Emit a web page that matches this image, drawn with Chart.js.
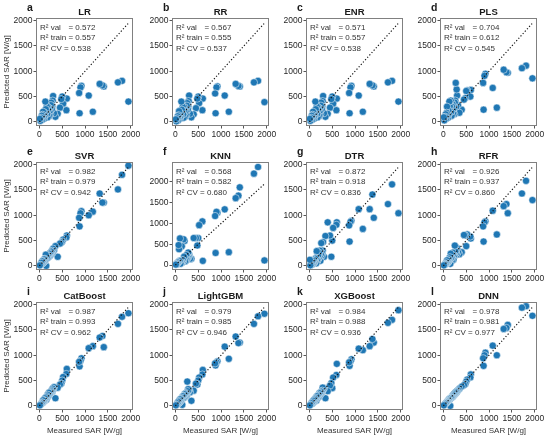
<!DOCTYPE html>
<html>
<head>
<meta charset="utf-8">
<script src="https://cdn.jsdelivr.net/npm/chart.js@4.4.0/dist/chart.umd.min.js"></script>
<style>
  body { margin: 0; background: #fff; width: 546px; height: 437px; position: relative; overflow: hidden; }
  canvas { position: absolute; }
</style>
</head>
<body>
<script>
// measured SAR (same for every model)
const measured = [1950, 1810, 1720, 1410, 1380, 1320, 1170, 1080, 920, 900, 880, 870,
  600, 590, 520, 500, 480, 450, 400, 350,
  320, 300, 290, 280, 270, 260, 250, 240, 230, 220, 210, 200, 190, 180, 170, 160, 150, 140, 130, 120, 110, 100, 90, 80, 70, 60, 50, 40, 20, 10];

const predLR = [400, 810, 780, 700, 720, 750, 200, 520, 710, 680, 170, 570,
  460, 230, 360, 500, 450, 280, 160, 100,
  170, 510, 420, 300, 250, 380, 330, 150, 260, 200, 110, 280, 240, 90, 160, 310, 220, 250, 400, 130, 180, 60, 100, 200, 140, 40, 120, 80, 20, 60];
const predRR = [390, 810, 780, 700, 710, 750, 200, 520, 700, 680, 170, 560,
  460, 230, 370, 500, 460, 270, 150, 90,
  160, 520, 410, 300, 240, 370, 320, 140, 250, 210, 100, 290, 230, 80, 150, 300, 230, 240, 400, 120, 170, 60, 90, 210, 130, 30, 110, 70, 10, 50];
const predENR = [400, 810, 780, 700, 720, 750, 200, 520, 710, 680, 170, 570,
  460, 230, 360, 500, 450, 280, 160, 100,
  170, 510, 410, 300, 250, 380, 320, 150, 260, 200, 110, 280, 240, 90, 160, 310, 220, 250, 400, 130, 170, 60, 100, 200, 140, 40, 120, 80, 20, 60];
const predPLS = [860, 1110, 1060, 970, 980, 1030, 280, 670, 950, 910, 240, 770,
  630, 500, 620, 610, 470, 440, 240, 180,
  330, 520, 640, 300, 770, 420, 380, 150, 300, 260, 160, 350, 300, 120, 200, 420, 280, 310, 400, 160, 230, 80, 130, 300, 180, 60, 150, 100, 30, 90];
const predSVR = [1980, 1800, 1510, 1250, 1250, 1430, 1070, 1000, 1080, 1040, 780, 950,
  600, 560, 520, 480, 460, 440, 180, 390,
  310, 340, 260, 300, 250, 280, 230, 250, 200, 240, 190, 210, 170, 200, 150, 180, 0, 220, 110, 140, 90, 130, 70, 100, 50, 90, 40, 60, 20, 10];
const predKNN = [110, 2360, 2200, 1870, 1670, 1610, 310, 1340, 1260, 1280, 290, 1180,
  100, 1050, 960, 650, 470, 650, 650, 150,
  150, 250, 200, 300, 180, 200, 130, 240, 100, 150, 90, 580, 200, 620, 100, 120, 60, 450, 80, 50, 30, 640, 100, 380, 480, 70, 60, 30, 20, 10];
const predDTR = [1040, 1610, 1220, 950, 1410, 1120, 730, 1120, 890, 870, 480, 800,
  860, 810, 750, 500, 180, 600, 860, 590,
  180, 470, 300, 250, 200, 450, 230, 100, 300, 180, 260, 150, 200, 110, 120, 290, 50, 160, 140, 90, 80, 60, 120, 40, 100, 30, 70, 20, 10, 120];
const predRFR = [1300, 1680, 1430, 1040, 1220, 1180, 620, 1090, 880, 860, 480, 780,
  540, 580, 620, 390, 600, 610, 270, 230,
  280, 350, 220, 310, 250, 290, 400, 200, 180, 120, 260, 210, 150, 90, 160, 240, 40, 170, 110, 130, 80, 100, 60, 110, 50, 70, 40, 30, 20, 10];
const predCatBoost = [1830, 1760, 1620, 1160, 1380, 1350, 1180, 1140, 940, 890, 780, 870,
  730, 630, 570, 500, 440, 420, 360, 150,
  370, 330, 340, 280, 310, 290, 270, 250, 240, 230, 260, 210, 200, 220, 160, 190, 120, 170, 130, 150, 110, 100, 80, 110, 60, 70, 50, 40, 20, 10];
const predLightGBM = [1820, 1770, 1620, 1250, 1240, 1370, 930, 1170, 880, 860, 800, 840,
  710, 620, 560, 500, 420, 440, 300, 100,
  270, 320, 300, 330, 290, 480, 210, 250, 200, 240, 180, 230, 170, 200, 150, 190, 20, 160, 120, 140, 90, 130, 70, 100, 50, 80, 40, 50, 20, 10];
const predXGBoost = [1890, 1700, 1640, 1250, 1320, 1180, 1100, 1130, 920, 880, 790, 860,
  830, 610, 560, 350, 450, 400, 290, 150,
  350, 320, 360, 300, 260, 280, 250, 230, 210, 250, 180, 220, 170, 200, 150, 190, 100, 160, 120, 140, 90, 120, 70, 100, 50, 70, 40, 50, 20, 10];
const predDNN = [1780, 1970, 1940, 1600, 1540, 1520, 1000, 1190, 1050, 1000, 790, 940,
  620, 560, 520, 480, 430, 410, 380, 340,
  310, 290, 280, 260, 270, 240, 250, 220, 230, 200, 210, 180, 190, 170, 160, 150, 0, 130, 140, 110, 120, 100, 90, 80, 70, 60, 50, 40, 20, 10];

const models = ['LR', 'RR', 'ENR', 'PLS', 'SVR', 'KNN', 'DTR', 'RFR', 'CatBoost', 'LightGBM', 'XGBoost', 'DNN'];
const letters = ['a', 'b', 'c', 'd', 'e', 'f', 'g', 'h', 'i', 'j', 'k', 'l'];
const predictions = [predLR, predRR, predENR, predPLS, predSVR, predKNN, predDTR, predRFR,
  predCatBoost, predLightGBM, predXGBoost, predDNN];
const r2Val = ['0.572', '0.567', '0.571', '0.704', '0.982', '0.568', '0.872', '0.926', '0.987', '0.979', '0.984', '0.978'];
const r2Train = ['0.557', '0.555', '0.557', '0.612', '0.979', '0.582', '0.918', '0.937', '0.993', '0.985', '0.988', '0.981'];
const r2CV = ['0.538', '0.537', '0.538', '0.545', '0.942', '0.680', '0.836', '0.860', '0.962', '0.946', '0.936', '0.977'];
const tickVals = [0, 500, 1000, 1500, 2000];
const diagonal = [0, 1950];

const FONT = '"Liberation Sans", Arial, sans-serif';
const colLeft = [36, 172, 306, 440];
const rowTop = [18, 162, 302];

const panelDecor = {
  id: 'panelDecor',
  afterDraw(chart, args, opts) {
    const ctx = chart.ctx;
    const a = chart.chartArea;
    ctx.save();
    ctx.strokeStyle = '#808080';
    ctx.lineWidth = 1;
    ctx.strokeRect(Math.round(a.left) + 0.5, Math.round(a.top) + 0.5, Math.round(a.width) - 1, Math.round(a.height) - 1);

    ctx.fillStyle = '#1a1a1a';
    ctx.textAlign = 'center';
    ctx.font = 'bold 9.5px ' + FONT;
    ctx.fillText(opts.title, (a.left + a.right) / 2, a.top - 3);

    ctx.textAlign = 'left';
    ctx.font = 'bold 10.5px ' + FONT;
    ctx.fillText(opts.letter, a.left - 9, a.top - 7);

    ctx.fillStyle = '#333';
    ctx.font = '8px ' + FONT;
    const x0 = a.left + 4;
    const eqX = x0 + ctx.measureText('R\u00b2 train ').width;
    const lines = [['R\u00b2 val', opts.val], ['R\u00b2 train', opts.train], ['R\u00b2 CV', opts.cv]];
    lines.forEach((ln, i) => {
      const y = a.top + 11.5 + i * 10.5;
      ctx.fillText(ln[0], x0, y);
      const x = i < 2 ? eqX : x0 + ctx.measureText(ln[0] + ' ').width;
      ctx.fillText('= ' + ln[1], x, y);
    });
    ctx.restore();
  }
};

models.forEach((name, i) => {
  const r = Math.floor(i / 4);
  const c = i % 4;
  const xH = r === 2 ? 26 : 16;
  const canvas = document.createElement('canvas');
  canvas.width = 146;
  canvas.height = 18 + 108 + xH;
  canvas.style.left = (colLeft[c] - 36) + 'px';
  canvas.style.top = (rowTop[r] - 18) + 'px';
  document.body.appendChild(canvas);

  const preds = predictions[i];
  const points = measured.map((m, k) => ({ x: m, y: preds[k] }));
  const yMin = name === 'KNN' ? -120 : -82;
  const yMax = name === 'KNN' ? 2480 : 2052;

  new Chart(canvas.getContext('2d'), {
    type: 'scatter',
    data: {
      datasets: [
        {
          data: diagonal.map(v => ({ x: v, y: v })),
          showLine: true,
          borderColor: '#111',
          borderWidth: 1.2,
          borderDash: [1.2, 2],
          pointRadius: 0,
          order: 0
        },
        {
          data: points,
          backgroundColor: 'rgb(31,119,180)',
          borderColor: '#ffffff',
          borderWidth: 0.5,
          pointRadius: 3.6,
          order: 1
        }
      ]
    },
    options: {
      responsive: false,
      animation: false,
      devicePixelRatio: 1,
      layout: { padding: { top: 18, right: 13, left: 0, bottom: 0 } },
      plugins: {
        legend: { display: false },
        tooltip: { enabled: false },
        panelDecor: { title: name, letter: letters[i], val: r2Val[i], train: r2Train[i], cv: r2CV[i] }
      },
      scales: {
        x: {
          type: 'linear',
          min: -75,
          max: 2050,
          afterBuildTicks: s => { s.ticks = tickVals.map(v => ({ value: v })); },
          afterFit: s => { s.height = xH; },
          grid: { display: true, drawOnChartArea: false, drawTicks: true, tickLength: 2.5, color: '#555' },
          border: { display: false },
          ticks: { font: { family: FONT, size: 8.5 }, color: '#262626', padding: 1, maxRotation: 0, autoSkip: false, callback: v => String(v) },
          title: { display: r === 2, text: 'Measured SAR [W/g]', font: { family: FONT, size: 8 }, color: '#333', padding: 0 }
        },
        y: {
          type: 'linear',
          min: yMin,
          max: yMax,
          afterBuildTicks: s => { s.ticks = tickVals.map(v => ({ value: v })); },
          afterFit: s => { s.width = 36; },
          grid: { display: true, drawOnChartArea: false, drawTicks: true, tickLength: 2.5, color: '#555' },
          border: { display: false },
          ticks: { font: { family: FONT, size: 8.5 }, color: '#262626', padding: 1, autoSkip: false, callback: v => String(v) },
          title: { display: c === 0, text: 'Predicted SAR [W/g]', font: { family: FONT, size: 8 }, color: '#333', padding: { top: 2, bottom: 0 } }
        }
      }
    },
    plugins: [panelDecor]
  });
});
</script>
</body>
</html>
